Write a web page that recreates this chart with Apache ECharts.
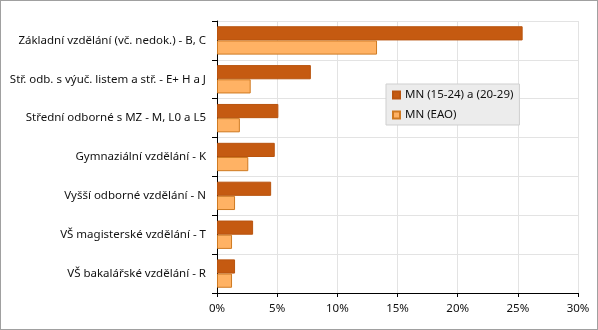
<!DOCTYPE html>
<html><head><meta charset="utf-8">
<script src="https://cdn.jsdelivr.net/npm/echarts@6/dist/echarts.min.js"></script>
<style>
html,body{margin:0;padding:0;background:#fff;}
#c{width:596px;height:328px;border:1px solid #a0a0a0;}
</style></head>
<body><div id="c"></div>
<script>
const categories = [
  "Základní vzdělání (vč. nedok.) - B, C",
  "Stř. odb. s výuč. listem a stř. - E+ H a J",
  "Střední odborné s MZ - M, L0 a L5",
  "Gymnaziální vzdělání - K",
  "Vyšší odborné vzdělání - N",
  "VŠ magisterské vzdělání - T",
  "VŠ bakalářské vzdělání - R"
];
const seriesNames = ["MN (15-24) a (20-29)", "MN (EAO)"];
const mnYoung = [25.4, 7.8, 5.1, 4.8, 4.5, 3.0, 1.5];
const mnEao = [13.3, 2.8, 1.9, 2.6, 1.5, 1.25, 1.25];
const xTicks = [0, 5, 10, 15, 20, 25, 30];

const font = "'Noto Sans', sans-serif";
const chart = echarts.init(document.getElementById('c'));
chart.setOption({
  animation: false,
  textStyle: {fontFamily: font},
  grid: {left: 216, right: 19, top: 20, bottom: 36, containLabel: false},
  legend: {
    orient: 'vertical', left: 385, top: 83,
    width: 135,
    backgroundColor: '#ececec', borderColor: '#cfcfcf', borderWidth: 1,
    padding: [5, 6, 4, 6], itemGap: 8,
    itemWidth: 7, itemHeight: 7, icon: 'rect',
    textStyle: {fontFamily: font, fontSize: 11.5, color: '#111'},
    data: seriesNames
  },
  xAxis: {
    type: 'value', min: 0, max: 30, interval: 5,
    axisLine: {show: true, lineStyle: {color: '#000'}},
    axisTick: {show: true, length: 4, lineStyle: {color: '#000'}},
    axisLabel: {fontFamily: font, fontSize: 11.5, color: '#111', margin: 10,
      formatter: v => xTicks.includes(v) ? v + '%' : ''},
    splitLine: {show: true, lineStyle: {color: '#e3e3e3'}}
  },
  yAxis: {
    type: 'category', data: categories, inverse: true,
    axisLine: {show: true, lineStyle: {color: '#000'}},
    axisTick: {show: true, length: 5, lineStyle: {color: '#000'}},
    axisLabel: {fontFamily: font, fontSize: 11.5, color: '#111', margin: 11},
    splitLine: {show: true, lineStyle: {color: '#e3e3e3'}}
  },
  series: [
    {name: seriesNames[0], type: 'bar', data: mnYoung, barCategoryGap: '27%', barGap: '0%',
     itemStyle: {color: '#c55a11', borderColor: '#b9540f', borderWidth: 1}},
    {name: seriesNames[1], type: 'bar', data: mnEao, barCategoryGap: '27%', barGap: '0%',
     itemStyle: {color: '#ffb264', borderColor: '#cf7a22', borderWidth: 1}}
  ]
});
</script></body></html>
